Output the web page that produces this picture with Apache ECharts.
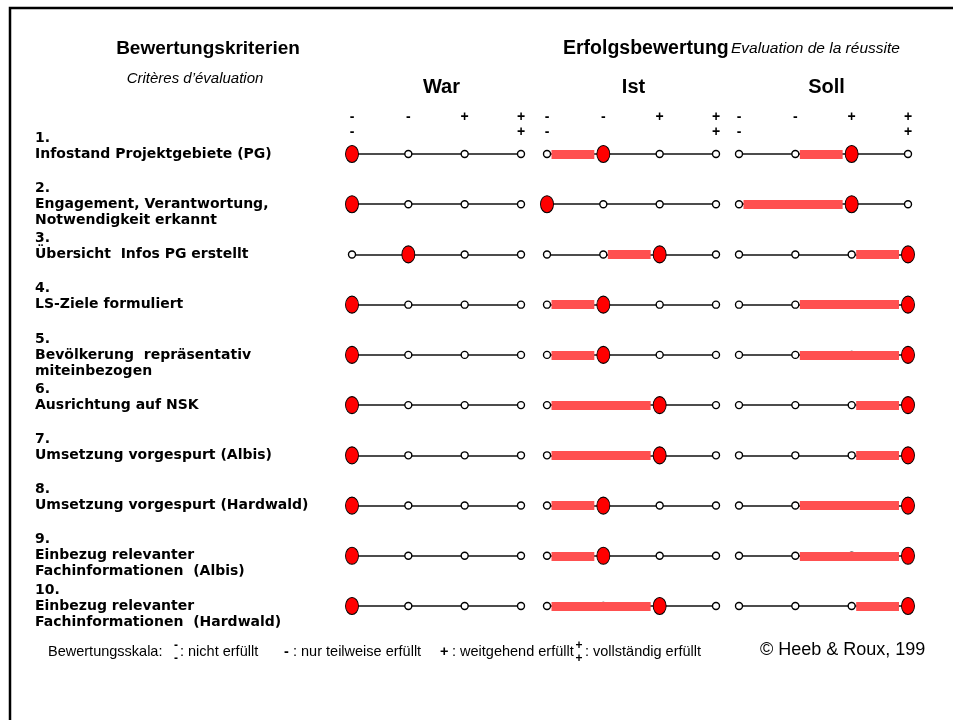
<!DOCTYPE html>
<html>
<head>
<meta charset="utf-8">
<script src="https://cdn.jsdelivr.net/npm/echarts@6/dist/echarts.min.js"></script>
<style>
  html, body { margin: 0; padding: 0; background: #fff; }
  #main { width: 953px; height: 720px; }
</style>
</head>
<body>
<div id="main"></div>
<script>
// Kriterien und Bewertungen (0 = --, 1 = -, 2 = +, 3 = ++)
const rowNums = ['1.', '2.', '3.', '4.', '5.', '6.', '7.', '8.', '9.', '10.'];
const rowNames = [
    'Infostand Projektgebiete (PG)',
    'Engagement, Verantwortung,\nNotwendigkeit erkannt',
    'Übersicht  Infos PG erstellt',
    'LS-Ziele formuliert',
    'Bevölkerung  repräsentativ\nmiteinbezogen',
    'Ausrichtung auf NSK',
    'Umsetzung vorgespurt (Albis)',
    'Umsetzung vorgespurt (Hardwald)',
    'Einbezug relevanter\nFachinformationen  (Albis)',
    'Einbezug relevanter\nFachinformationen  (Hardwald)'
];
const groupNames = ['War', 'Ist', 'Soll'];
const scaleSteps = [0, 1, 2, 3];
const scaleLabels = ['-\n-', '-\n\u00a0', '+\n\u00a0', '+\n+'];
const warValues = [0, 0, 1, 0, 0, 0, 0, 0, 0, 0];
const istValues = [1, 0, 2, 1, 1, 2, 2, 1, 1, 2];
const sollValues = [2, 2, 3, 3, 3, 3, 3, 3, 3, 3];

const FONT = '"Liberation Sans", Arial, sans-serif';
const LABEL_FONT = '"DejaVu Sans", "Liberation Sans", sans-serif';
var myChart = echarts.init(document.getElementById('main'));

const groupValues = [warValues, istValues, sollValues];
const gridLeft = [352, 547, 739];
const nameShift = [10, 4, 6];
const grid = [], xAxis = [], yAxis = [], series = [];

groupValues.forEach(function (vals, g) {
    grid.push({ left: gridLeft[g], top: 154, width: 169, height: 452 });
    xAxis.push({
        gridIndex: g, type: 'value', position: 'top', min: 0, max: 3, interval: 1,
        name: groupNames[g], nameLocation: 'middle', nameGap: 57,
        nameTextStyle: {
            fontFamily: FONT, fontWeight: 'bold', fontSize: 20, color: '#000',
            padding: [0, 0, 0, nameShift[g]]
        },
        axisLine: { show: false }, axisTick: { show: false }, splitLine: { show: false },
        axisLabel: {
            margin: 14, formatter: function (v) { return scaleLabels[v]; },
            fontFamily: FONT, fontWeight: 'bold', fontSize: 14, lineHeight: 15, color: '#000'
        }
    });
    yAxis.push({
        gridIndex: g, type: 'category', data: rowNums, inverse: true, boundaryGap: false,
        axisLine: { show: false }, axisTick: { show: false }, splitLine: { show: false },
        axisLabel: g === 0 ? {
            interval: 0, align: 'left', margin: 317, padding: [0, 0, 6, 0],
            fontFamily: LABEL_FONT, fontWeight: 'bold', fontSize: 14, lineHeight: 16, color: '#000',
            formatter: function (val, idx) {
                const name = rowNames[idx];
                return rowNums[idx] + '\n' + name + (name.indexOf('\n') >= 0 ? '' : '\n\u00a0');
            }
        } : { show: false }
    });
    // Skala-Linie
    series.push({
        type: 'lines', coordinateSystem: 'cartesian2d', xAxisIndex: g, yAxisIndex: g,
        silent: true, z: 1, clip: false,
        lineStyle: { color: '#111', width: 1.6, opacity: 1 },
        data: vals.map(function (v, i) { return { coords: [[0, i], [3, i]] }; })
    });
    // kleine Kreise
    const small = [];
    vals.forEach(function (v, i) { scaleSteps.forEach(function (s) { small.push([s, i]); }); });
    series.push({
        type: 'scatter', xAxisIndex: g, yAxisIndex: g, silent: true, z: 2, clip: false,
        symbol: 'circle', symbolSize: 7,
        itemStyle: { color: '#fff', borderColor: '#000', borderWidth: 1.4, opacity: 1 },
        data: small
    });
    // Veränderung gegenüber vorher
    if (g > 0) {
        const prev = groupValues[g - 1];
        const bars = [];
        vals.forEach(function (v, i) {
            if (v > prev[i]) bars.push({ coords: [[prev[i] + 0.08, i], [v - 0.16, i]] });
        });
        series.push({
            type: 'lines', coordinateSystem: 'cartesian2d', xAxisIndex: g, yAxisIndex: g,
            silent: true, z: 3, clip: false,
            lineStyle: { color: '#ff5050', width: 9, opacity: 1, cap: 'butt' },
            data: bars
        });
    }
    // Bewertung
    series.push({
        type: 'scatter', xAxisIndex: g, yAxisIndex: g, silent: true, z: 4, clip: false,
        symbol: 'circle', symbolSize: [13, 17],
        itemStyle: { color: '#ff0000', borderColor: '#000', borderWidth: 1, opacity: 1 },
        data: vals.map(function (v, i) { return [v, i]; })
    });
});

function txt(x, y, text, size, extra) {
    return {
        type: 'text', x: x, y: y,
        style: Object.assign({
            text: text, fontFamily: FONT, fontSize: size, fill: '#000',
            align: 'left', verticalAlign: 'middle'
        }, extra || {})
    };
}

const option = {
    animation: false,
    grid: grid,
    xAxis: xAxis,
    yAxis: yAxis,
    series: series,
    graphic: [
        { type: 'rect', shape: { x: 10, y: 8, width: 1200, height: 1000 },
          style: { fill: 'none', stroke: '#000', lineWidth: 2.5 } },
        txt(208, 49, 'Bewertungskriterien', 19, { fontWeight: 'bold', align: 'center' }),
        txt(195, 79, 'Critères d’évaluation', 15, { fontStyle: 'italic', align: 'center' }),
        txt(563, 49, 'Erfolgsbewertung', 19.5, { fontWeight: 'bold' }),
        txt(731, 49, 'Evaluation de la réussite', 15.5, { fontStyle: 'italic' }),
        // Bewertungsskala
        txt(48, 652, 'Bewertungsskala:', 14.5),
        txt(176, 652, '-\n-', 12, { fontWeight: 'bold', lineHeight: 13, align: 'center' }),
        txt(180, 652, ': nicht erfüllt', 14.5),
        txt(284, 652, '-', 14.5, { fontWeight: 'bold' }),
        txt(293, 652, ': nur teilweise erfüllt', 14.5),
        txt(440, 652, '+', 14.5, { fontWeight: 'bold' }),
        txt(452, 652, ': weitgehend erfüllt', 14.5),
        txt(579, 652, '+\n+', 12, { fontWeight: 'bold', lineHeight: 13, align: 'center' }),
        txt(585, 652, ': vollständig erfüllt', 14.5),
        txt(760, 650, '© Heeb & Roux, 1998', 18, { width: 170, overflow: 'truncate', ellipsis: '' })
    ]
};

myChart.setOption(option);
</script>
</body>
</html>
